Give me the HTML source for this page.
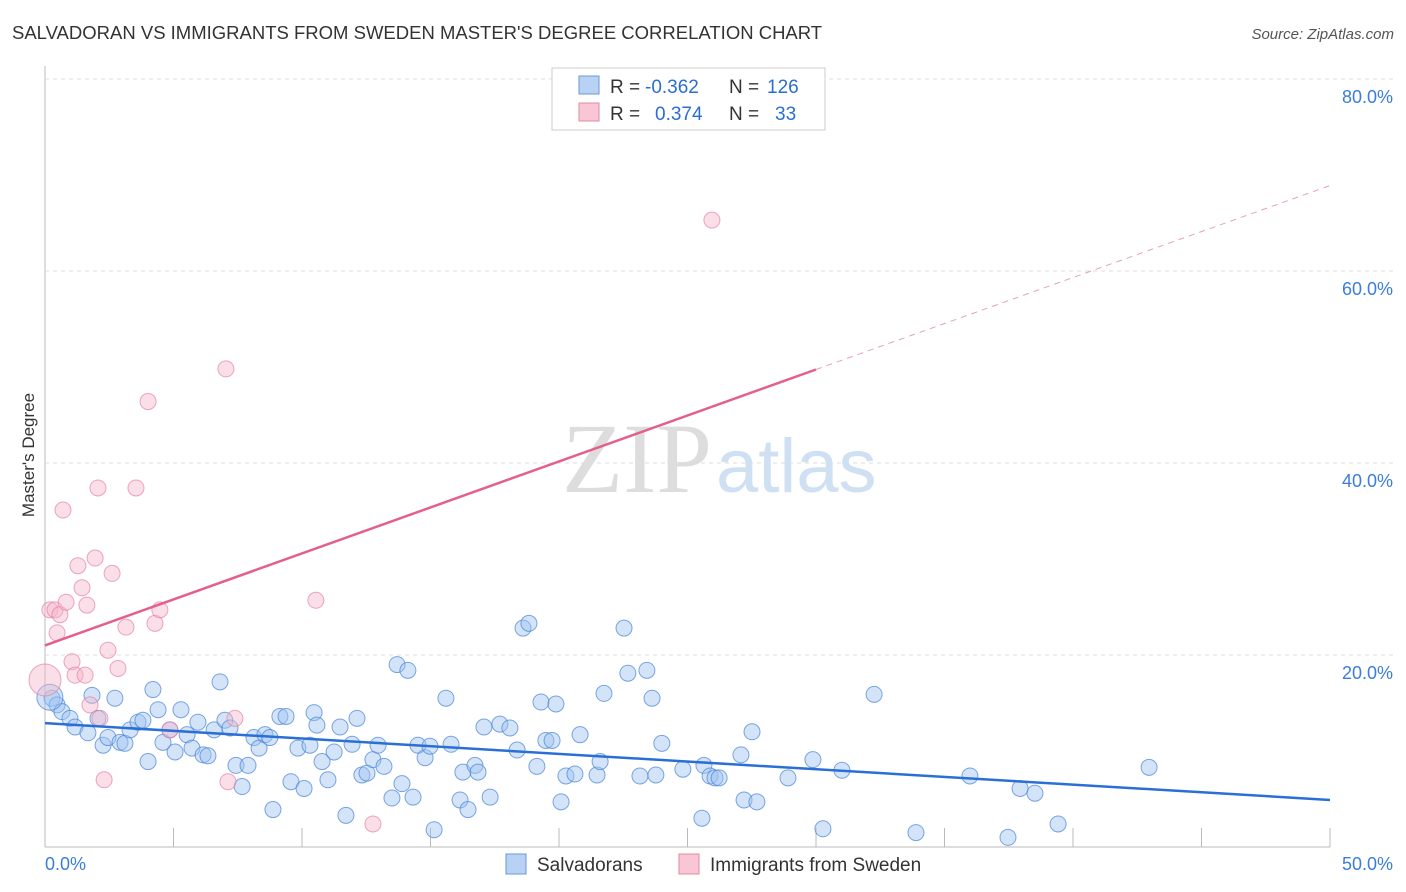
<!DOCTYPE html>
<html><head><meta charset="utf-8"><style>
body{margin:0;background:#fff;font-family:"Liberation Sans",sans-serif;}
svg{display:block}
</style></head><body>
<svg id="c" width="1406" height="892">
<text x="12" y="39" font-size="18.5" fill="#333">SALVADORAN VS IMMIGRANTS FROM SWEDEN MASTER'S DEGREE CORRELATION CHART</text>
<text x="1394" y="39" font-size="15" fill="#555" font-style="italic" text-anchor="end">Source: ZipAtlas.com</text>
<text x="34" y="455" font-size="17" fill="#333" text-anchor="middle" transform="rotate(-90 34 455)">Master's Degree</text>
<g id="grid"></g>
<text x="712" y="492" font-size="100" fill="#ddd" text-anchor="end" font-family="Liberation Serif,serif">ZIP</text>
<text x="716" y="492" font-size="76" fill="#cfe0f3">atlas</text>
<g id="pts"></g>
<g id="lines"></g>
<g font-size="19">
<rect x="552" y="68" width="273" height="62" fill="#fff" stroke="#ccc"/>
<rect x="579" y="76" width="20" height="18" fill="#b8d2f3" stroke="#6a9ad6"/>
<text x="610" y="93" fill="#333">R =</text><text x="645" y="93" fill="#2a6fd0">-0.362</text>
<text x="729" y="93" fill="#333">N =</text><text x="767" y="93" fill="#2a6fd0">126</text>
<rect x="579" y="103" width="20" height="18" fill="#f8c6d4" stroke="#e08aa3"/>
<text x="610" y="120" fill="#333">R =</text><text x="655" y="120" fill="#2a6fd0">0.374</text>
<text x="729" y="120" fill="#333">N =</text><text x="775" y="120" fill="#2a6fd0">33</text>
</g>
<g>
<rect x="506" y="854" width="20" height="20" fill="#b8d2f3" stroke="#6a9ad6"/>
<text x="537" y="871" font-size="19" fill="#333">Salvadorans</text>
<rect x="679" y="854" width="20" height="20" fill="#f8c6d4" stroke="#e08aa3"/>
<text x="710" y="871" font-size="19" fill="#333">Immigrants from Sweden</text>
</g>
</svg>
<script>
const xTicks=[0,5,10,15,20,25,30,35,40,45,50];
const yTicks=[20,40,60,80];
const blueX=[0.27,0.47,0.66,0.97,1.17,1.67,1.83,2.06,2.26,2.45,2.72,2.92,3.11,3.31,3.62,3.81,4.01,4.2,4.4,4.59,4.86,5.06,5.29,5.53,5.72,5.95,6.15,6.34,6.58,6.81,7.0,7.2,7.43,7.67,7.9,8.13,8.33,8.56,8.75,8.87,9.14,9.38,9.57,9.84,10.08,10.31,10.47,10.58,10.78,11.01,11.25,11.48,11.71,11.95,12.14,12.33,12.53,12.76,12.96,13.19,13.5,13.7,13.89,14.12,14.32,14.51,14.79,14.98,15.14,15.6,15.8,16.15,16.26,16.46,16.73,16.85,17.08,17.32,17.7,18.09,18.37,18.6,18.83,19.14,19.3,19.49,19.73,19.88,20.08,20.27,20.62,20.82,21.48,21.6,21.75,22.53,22.68,23.15,23.42,23.62,23.77,24.0,24.82,25.56,25.64,25.88,26.07,26.23,27.08,27.2,27.51,27.7,28.91,29.88,30.27,31.01,32.26,33.89,35.99,37.47,37.94,38.52,39.42,42.96,0.19];
const blueY=[15.5,14.8,14.1,13.4,12.5,11.9,15.8,13.4,10.6,11.4,15.5,10.9,10.8,12.2,13.0,13.2,8.9,16.4,14.3,10.9,12.2,9.9,14.3,11.7,10.3,13.0,9.6,9.5,12.2,17.2,13.2,12.4,8.5,6.3,8.5,11.4,10.3,11.7,11.4,3.9,13.6,13.6,6.8,10.3,6.1,10.6,14.0,12.7,8.9,7.0,9.9,12.5,3.3,10.7,13.4,7.5,7.7,9.1,10.6,8.4,5.1,19.0,6.6,18.4,5.2,10.6,9.3,10.5,1.8,15.5,10.7,4.9,7.8,3.9,8.5,7.8,12.5,5.2,12.8,12.4,10.1,22.8,23.3,8.4,15.1,11.1,11.1,14.9,4.7,7.4,7.6,11.7,7.5,8.9,16.0,22.8,18.1,7.4,18.4,15.5,7.5,10.8,8.1,3.0,8.5,7.4,7.2,7.2,9.6,4.9,12.0,4.7,7.2,9.1,1.9,8.0,15.9,1.5,7.4,1.0,6.1,5.6,2.4,8.3,15.6];
const pinkX=[0,0.19,0.39,0.47,0.58,0.7,0.82,1.05,1.17,1.28,1.44,1.56,1.63,1.75,1.95,2.06,2.14,2.3,2.45,2.61,2.84,3.15,4.01,4.28,4.47,4.86,7.04,7.12,7.39,10.54,12.76,3.54,25.95];
const pinkY=[17.4,24.7,24.7,22.3,24.2,35.1,25.5,19.3,17.9,29.3,27.0,17.9,25.2,14.8,30.1,37.4,13.4,7.0,20.5,28.5,18.6,22.9,46.4,23.3,24.7,12.2,49.8,6.8,13.4,25.7,2.4,37.4,65.3];
const blueFit=[12.9,4.9];
const pinkFit=[21.0,68.9];
const X=v=>45+v*25.7, Y=v=>847-v*9.6;
const NS='http://www.w3.org/2000/svg';
function mk(t,a,p){const e=document.createElementNS(NS,t);for(const k in a)e.setAttribute(k,a[k]);p.appendChild(e);return e;}
const g=document.getElementById('grid');
const ax=mk('line',{x1:45,y1:66,x2:45,y2:847,stroke:'#bbb'},g);


const bx=mk('line',{x1:45,y1:847,x2:1330,y2:847,stroke:'#bbb'},g);


yTicks.forEach(t=>{
 const l=mk('line',{x1:45,x2:1394,y1:Y(t),y2:Y(t),stroke:'#ddd','stroke-dasharray':'4,4'},g);
 
 
 const tx=mk('text',{x:1393,y:Y(t)+24,'font-size':18,fill:'#3b7dd8','text-anchor':'end'},g);
 tx.textContent=t.toFixed(1)+'%';
 
 
});
xTicks.forEach(t=>{
 const l=mk('line',{x1:X(t),x2:X(t),y1:828,y2:847,stroke:'#bbb'},g);
 
 
});
[[0,'start',45],[50,'end',1393]].forEach(([t,a,px])=>{
 const tx=mk('text',{x:px,y:870,'font-size':18,fill:'#3b7dd8','text-anchor':a},g);
 tx.textContent=t.toFixed(1)+'%';
 
 
});
const p=document.getElementById('pts');
blueX.forEach((x,i)=>{
 const c=mk('circle',{cx:X(x),cy:Y(blueY[i]),r:i==blueX.length-1?13:8,fill:'rgba(160,195,240,0.45)',stroke:'rgba(70,130,215,0.7)','stroke-width':1},p);
 
 
});
pinkX.forEach((x,i)=>{
 const c=mk('circle',{cx:X(x),cy:Y(pinkY[i]),r:i==0?16:8,fill:'rgba(245,185,205,0.45)',stroke:'rgba(230,130,160,0.7)','stroke-width':1},p);
 
 
});
const L=document.getElementById('lines');
const pf=x=>pinkFit[0]+(pinkFit[1]-pinkFit[0])*x/50;
const b=mk('line',{x1:X(0),y1:Y(blueFit[0]),x2:X(50),y2:Y(blueFit[1]),stroke:'#2a6fd6','stroke-width':2.5},L);


const ps=mk('line',{x1:X(0),y1:Y(pf(0)),x2:X(30),y2:Y(pf(30)),stroke:'#e4608a','stroke-width':2.5},L);


const pd=mk('line',{x1:X(30),y1:Y(pf(30)),x2:X(50),y2:Y(pf(50)),stroke:'#e8a0b8','stroke-width':1,'stroke-dasharray':'6,5'},L);


</script>
</body></html>
